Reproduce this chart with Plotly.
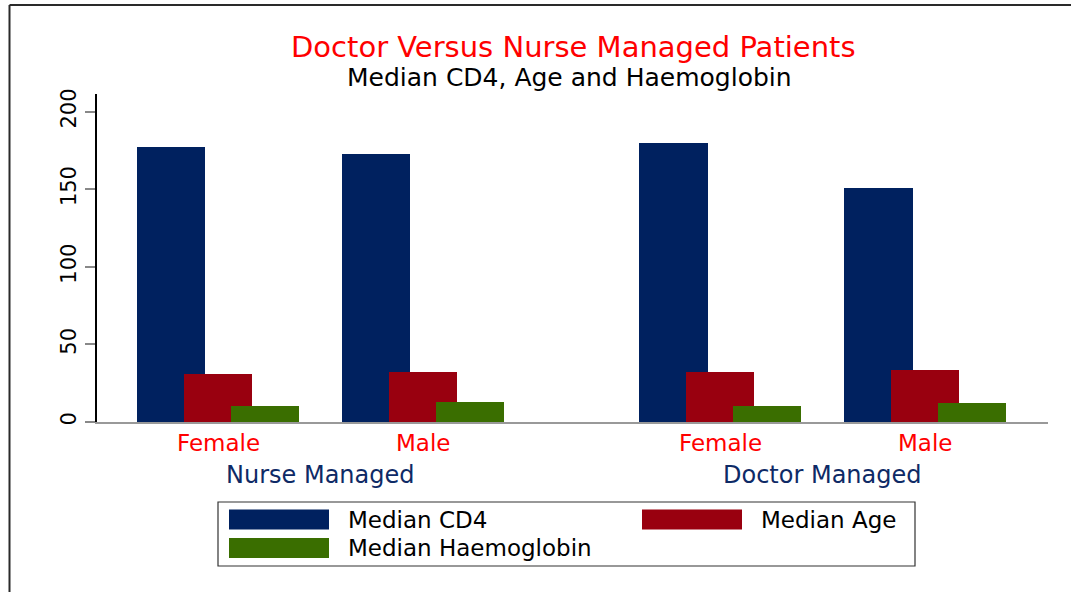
import plotly.graph_objects as go

# ---- data ----
groups = ["Nurse Managed", "Doctor Managed"]
sexes = ["Female", "Male"]
series_names = ["Median CD4", "Median Age", "Median Haemoglobin"]
cd4 = [177.5, 172.5, 179.5, 150.5]
age = [31, 32.5, 32.5, 33.5]
haemoglobin = [10.5, 13, 10.5, 12]
series_values = [cd4, age, haemoglobin]
series_colors = ["#00215F", "#99000F", "#3A6E00"]
y_ticks = [0, 50, 100, 150, 200]

title_text = "Doctor Versus Nurse Managed Patients"
subtitle_text = "Median CD4, Age and Haemoglobin"

# ---- layout helpers (pixel geometry of the plot area) ----
W, H = 1071, 592
L, R, T, B = 97, 1048, 94, 422


def px_x(p):
    return (p - L) / (R - L)


def px_y(p):
    return (B - p) / (B - T)


FONT = "DejaVu Sans"
group_gap = 0.451
bar_width = 0.332
centers = [-0.229, 0.0, 0.229]

# category positions: within-group step 1, groups separated by an extra gap
xpos = [gi * (len(sexes) + group_gap) + si for gi in range(len(groups)) for si in range(len(sexes))]

fig = go.Figure()
for name, vals, col, c in zip(series_names, series_values, series_colors, centers):
    fig.add_trace(go.Bar(
        x=xpos, y=vals, name=name,
        width=bar_width, offset=c - bar_width / 2,
        marker=dict(color=col, line=dict(width=0)),
        showlegend=False,
    ))

annotations = []
annotations.append(dict(text=title_text, x=px_x(573.5), y=px_y(47), xref="paper", yref="paper",
                        showarrow=False, xanchor="center", yanchor="middle",
                        font=dict(family=FONT, size=29, color="#FF0000")))
annotations.append(dict(text=subtitle_text, x=px_x(569.5), y=px_y(77), xref="paper", yref="paper",
                        showarrow=False, xanchor="center", yanchor="middle",
                        font=dict(family=FONT, size=25, color="#000000")))
i = 0
for gi, g in enumerate(groups):
    for si, s in enumerate(sexes):
        annotations.append(dict(text=s, x=xpos[i], y=px_y(443), xref="x", yref="paper",
                                showarrow=False, xanchor="center", yanchor="middle",
                                font=dict(family=FONT, size=23, color="#FF0000")))
        i += 1
    gx = (xpos[gi * len(sexes)] + xpos[gi * len(sexes) + len(sexes) - 1]) / 2
    annotations.append(dict(text=g, x=gx, y=px_y(475), xref="x", yref="paper",
                            showarrow=False, xanchor="center", yanchor="middle",
                            font=dict(family=FONT, size=24, color="#0E2A66")))

shapes = []
shapes.append(dict(type="line", xref="paper", yref="paper", x0=px_x(9.5), x1=px_x(1075),
                   y0=px_y(5), y1=px_y(5), line=dict(color="#2a2a2a", width=2)))
shapes.append(dict(type="line", xref="paper", yref="paper", x0=px_x(9.5), x1=px_x(9.5),
                   y0=px_y(5), y1=px_y(600), line=dict(color="#2a2a2a", width=2)))
shapes.append(dict(type="rect", xref="paper", yref="paper", x0=px_x(218), x1=px_x(915),
                   y0=px_y(566), y1=px_y(502), line=dict(color="#333333", width=1.2),
                   fillcolor="rgba(0,0,0,0)"))
legend_slots = [(229, 509.5, 346), (642, 509.5, 759), (229, 538, 346)]
for (sx, sy, tx), name, col in zip(legend_slots, series_names, series_colors):
    shapes.append(dict(type="rect", xref="paper", yref="paper", x0=px_x(sx), x1=px_x(sx + 100),
                       y0=px_y(sy + 20), y1=px_y(sy), line=dict(width=0), fillcolor=col))
    annotations.append(dict(text=name, x=px_x(tx), y=px_y(sy + 10), xref="paper", yref="paper",
                            showarrow=False, xanchor="left", yanchor="middle",
                            font=dict(family=FONT, size=23, color="#000000")))

fig.update_layout(
    width=W, height=H,
    margin=dict(l=L, r=W - R, t=T, b=H - B, pad=0),
    paper_bgcolor="white", plot_bgcolor="white",
    barmode="overlay", bargap=0,
    showlegend=False,
    annotations=annotations, shapes=shapes,
    xaxis=dict(range=[(L - 218) / 205, (R - 218) / 205], showgrid=False, zeroline=False,
               showline=True, linecolor="#999999", linewidth=2, showticklabels=False, ticks=""),
    yaxis=dict(range=[0, (B - T) / 1.552], showgrid=False, zeroline=False,
               showline=True, linecolor="#000000", linewidth=1.5,
               tickvals=y_ticks, ticktext=[str(v) for v in y_ticks],
               ticks="outside", ticklen=10, tickwidth=1.5, tickcolor="#888888",
               tickangle=-90, ticklabelstandoff=1,
               tickfont=dict(family=FONT, size=21, color="#000000")),
)

fig.write_html("out.html", config={"displayModeBar": False},
               post_script="document.body.style.margin='0';document.body.style.overflow='hidden';")
